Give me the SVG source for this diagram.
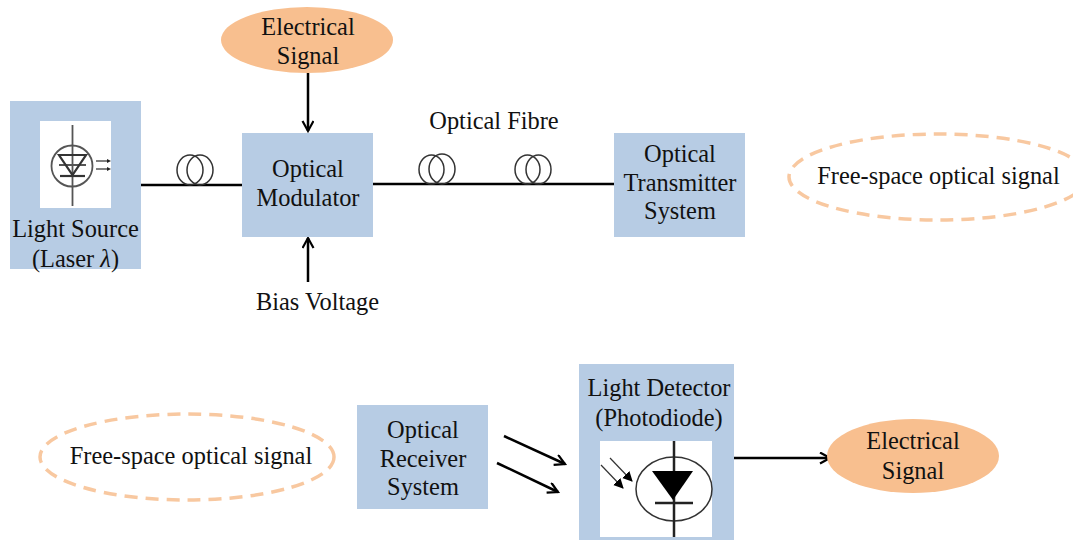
<svg xmlns="http://www.w3.org/2000/svg" width="1073" height="540" viewBox="0 0 1073 540">
<style>
.box{fill:#b7cce4}
.sig{fill:#f8bf8f}
.dash{fill:none;stroke:#f8c8a0;stroke-width:3.500;stroke-dasharray:13 8}
.t{font-family:"Liberation Serif","DejaVu Serif",serif;font-size:24.400px;fill:#111;text-anchor:middle}
.l{stroke:#000;stroke-width:2.500;fill:none}
.coil{fill:none;stroke:#333;stroke-width:1.500}
.thin{stroke:#555;stroke-width:1.800;fill:none}
</style>
<defs>
<marker id="a" markerWidth="14" markerHeight="14" refX="11" refY="6" orient="auto" markerUnits="userSpaceOnUse"><path d="M1 0.500L11 6L1 11.500" fill="none" stroke="#000" stroke-width="2.200"/></marker>
<marker id="s" markerWidth="12" markerHeight="12" refX="9" refY="5" orient="auto" markerUnits="userSpaceOnUse"><path d="M0 0L10 5L0 10Z" fill="#000"/></marker>
</defs>
<g id="connectors">
<path class="l" d="M141 185H242"/>
<path class="l" d="M373 184H614"/>
<path class="l" marker-end="url(#a)" d="M308 73V131"/>
<path class="l" marker-end="url(#a)" d="M308 282V238"/>
<path class="l" marker-end="url(#a)" d="M504 436L565 464"/>
<path class="l" marker-end="url(#a)" d="M497 463L558 492"/>
<path class="l" marker-end="url(#a)" d="M734 458H830"/>
<g id="coil1"><ellipse class="coil" cx="190" cy="170" rx="13" ry="15"/><ellipse class="coil" cx="200" cy="170" rx="13" ry="15"/></g>
<g id="coil2"><ellipse class="coil" cx="431.500" cy="169.500" rx="12.500" ry="14.500"/><ellipse class="coil" cx="442" cy="169" rx="13" ry="15"/></g>
<g id="coil3"><ellipse class="coil" cx="527.500" cy="169.500" rx="12.500" ry="14.500"/><ellipse class="coil" cx="538.500" cy="169.500" rx="12.500" ry="14.500"/></g>
</g>
<g id="electrical-signal-top"><ellipse class="sig" cx="307" cy="40" rx="86" ry="33"/><text class="t" x="308" y="35">Electrical</text><text class="t" x="308" y="64">Signal</text></g>
<g id="light-source"><rect class="box" x="10" y="101" width="131" height="168"/><rect x="40" y="121" width="71" height="87" fill="#fff"/>
<circle class="thin" cx="72" cy="166" r="20.500"/><path class="thin" d="M72.500 125V206M59 165H86"/><path d="M59 155H86L72.500 175Z" fill="none" stroke="#333" stroke-width="2.200"/><path d="M60 176H85" stroke="#333" stroke-width="2.200"/>
<path d="M96 161H108M96 169H108" stroke="#555" stroke-width="1.500"/><path d="M107 159L111 161L107 163ZM107 167L111 169L107 171Z" fill="#222"/>
<text class="t" x="75.500" y="237">Light Source</text><text class="t" x="75.500" y="267">(Laser <tspan font-style="italic">λ</tspan>)</text></g>
<g id="optical-modulator"><rect class="box" x="242" y="133" width="131" height="104"/><text class="t" x="308" y="177">Optical</text><text class="t" x="308" y="206">Modulator</text></g>
<g id="bias-voltage"><text class="t" x="317.500" y="310">Bias Voltage</text></g>
<g id="optical-fibre"><text class="t" x="494" y="129">Optical Fibre</text></g>
<g id="optical-transmitter"><rect class="box" x="614" y="133" width="131" height="104"/><text class="t" x="680" y="162">Optical</text><text class="t" x="680" y="191">Transmitter</text><text class="t" x="680" y="219">System</text></g>
<g id="free-space-top"><ellipse class="dash" cx="938" cy="177" rx="149" ry="43"/><text class="t" x="938.500" y="184">Free-space optical signal</text></g>
<g id="free-space-bottom"><ellipse class="dash" cx="187" cy="457" rx="147" ry="43"/><text class="t" x="191" y="464">Free-space optical signal</text></g>
<g id="optical-receiver"><rect class="box" x="357" y="405" width="131" height="104"/><text class="t" x="423" y="438">Optical</text><text class="t" x="423" y="467">Receiver</text><text class="t" x="423" y="495">System</text></g>
<g id="light-detector"><rect class="box" x="579" y="364" width="155" height="176"/><rect x="600" y="441" width="112" height="96" fill="#fff"/>
<ellipse cx="674" cy="489" rx="38" ry="32" fill="none" stroke="#333" stroke-width="1.500"/><path d="M674 441V537M655 503H693" stroke="#222" stroke-width="2.500"/><path d="M652 471H693L673 500Z" fill="#000"/>
<path d="M610 458L632 481" stroke="#333" stroke-width="1.200" marker-end="url(#s)"/><path d="M601 465L623 488" stroke="#333" stroke-width="1.200" marker-end="url(#s)"/>
<text class="t" x="659" y="396">Light Detector</text><text class="t" x="659" y="426">(Photodiode)</text></g>
<g id="electrical-signal-bottom"><ellipse class="sig" cx="913" cy="456" rx="86" ry="37"/><text class="t" x="913" y="449">Electrical</text><text class="t" x="913" y="479">Signal</text></g>
</svg>
